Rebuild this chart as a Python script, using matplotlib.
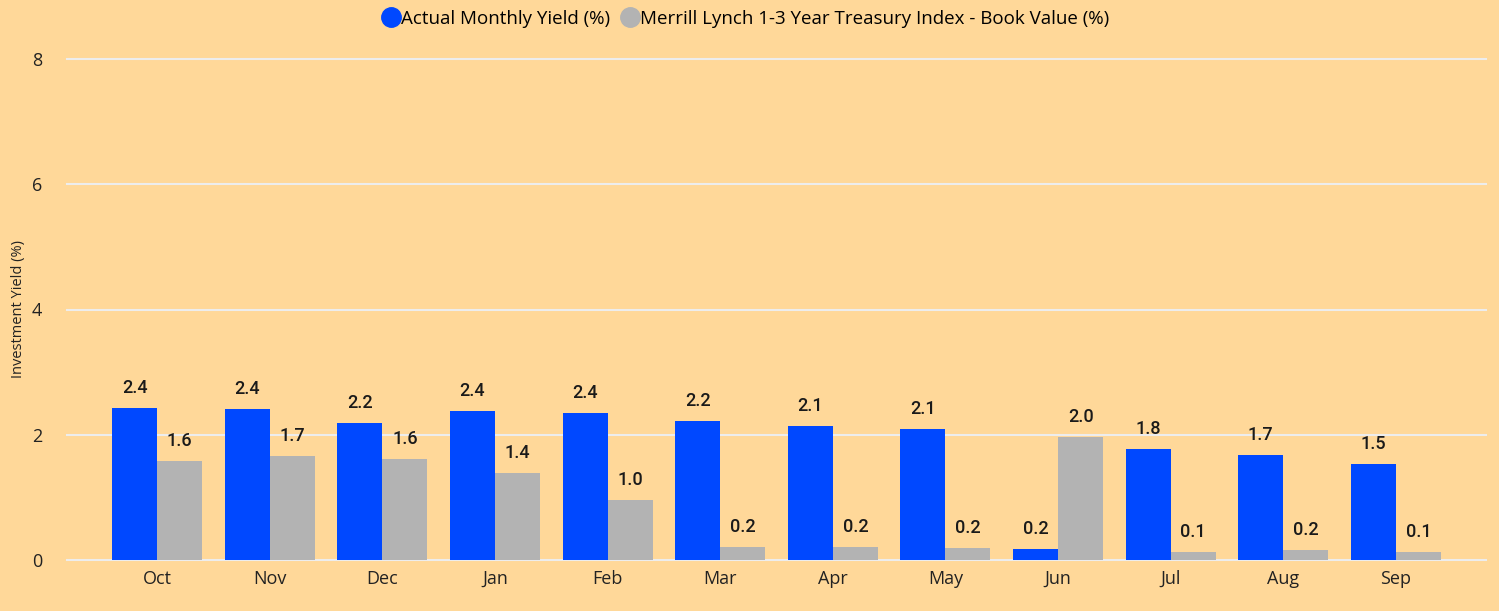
import matplotlib.pyplot as plt
import numpy as np
from matplotlib.lines import Line2D

months = ['Oct', 'Nov', 'Dec', 'Jan', 'Feb', 'Mar', 'Apr', 'May', 'Jun', 'Jul', 'Aug', 'Sep']
actual = [2.43, 2.41, 2.19, 2.38, 2.35, 2.22, 2.14, 2.09, 0.18, 1.77, 1.68, 1.53]
merrill = [1.58, 1.66, 1.61, 1.39, 0.96, 0.21, 0.21, 0.19, 1.96, 0.13, 0.16, 0.13]
yticks = [0, 2, 4, 6, 8]

bg = '#FFD899'
blue = '#0048FF'
gray = '#B3B3B3'

plt.rcParams['font.family'] = ['Open Sans', 'DejaVu Sans']

fig = plt.figure(figsize=(14.99, 6.11), dpi=100, facecolor=bg)
ax = fig.add_axes([67/1499, 1 - 560/611, (1486 - 67)/1499, (560 - 59)/611])
ax.set_facecolor(bg)

x = np.arange(len(months))
w = 0.4
b1 = ax.bar(x - w/2, actual, w, color=blue, zorder=3)
b2 = ax.bar(x + w/2, merrill, w, color=gray, zorder=3)

for bars, vals in ((b1, actual), (b2, merrill)):
    for r, v in zip(bars, vals):
        ax.annotate(f'{v:.1f}', (r.get_x() + r.get_width()/2, v), xytext=(0, 8),
                    textcoords='offset points', ha='center', va='bottom',
                    fontsize=13, fontfamily='Roboto', fontweight='medium', color='#1a1a1a')

ax.set_xlim(-0.8, 11.8)
ax.set_ylim(0, 8)
ax.set_yticks(yticks)
ax.set_xticks(x)
ax.set_xticklabels(months)
ax.tick_params(axis='both', length=0, labelsize=13, colors='#222222')
ax.tick_params(axis='x', pad=7)
ax.tick_params(axis='y', pad=18)
ax.grid(axis='y', color='#EDEDED', linewidth=1.5, zorder=0)
for s in ax.spines.values():
    s.set_visible(False)
for gl in ax.get_ygridlines():
    gl.set_clip_on(False)
ax.set_ylabel('Investment Yield (%)', fontsize=10.5, color='#222222')
ax.yaxis.set_label_coords(-0.029, 0.5)

handles = [Line2D([], [], marker='o', linestyle='', markersize=14, color=blue),
           Line2D([], [], marker='o', linestyle='', markersize=14, color=gray)]
fig.legend(handles, ['Actual Monthly Yield (%)', 'Merrill Lynch 1-3 Year Treasury Index - Book Value (%)'],
           loc='center', bbox_to_anchor=(745/1499, 1 - 19/611), ncol=2, frameon=False,
           fontsize=13.5, handletextpad=0.0, columnspacing=0.5, handlelength=1.1)

fig.savefig('out.png', dpi=100, facecolor=bg)
